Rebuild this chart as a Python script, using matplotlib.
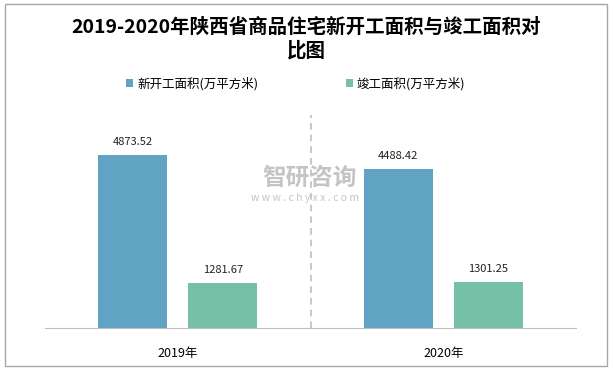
import numpy as np
import matplotlib
matplotlib.use("Agg")
import matplotlib.pyplot as plt
from matplotlib.patches import Rectangle

plt.rcParams["font.family"] = ["Noto Sans CJK SC", "DejaVu Sans"]

years = ["2019年", "2020年"]
new_start = [4873.52, 4488.42]
completed = [1281.67, 1301.25]
series_names = ["新开工面积(万平方米)", "竣工面积(万平方米)"]
BLUE, GREEN = "#60A3C2", "#76C0A8"

W, H = 613, 369
fig = plt.figure(figsize=(W / 100, H / 100), dpi=100)
# outer border
fig.patches.append(Rectangle((5 / W, 3 / H), 602 / W, 362 / H, transform=fig.transFigure,
                             fill=False, ec="#a6a6a6", lw=1.0))

ax = fig.add_axes([45 / W, 1 - 328 / H, 531 / W, 213 / H])
x = np.arange(len(years))
bw, off = 0.26, 0.17
b1 = ax.bar(x - off, new_start, bw, color=BLUE, label=series_names[0])
b2 = ax.bar(x + off, completed, bw, color=GREEN, label=series_names[1])
for bars in (b1, b2):
    for r in bars:
        ax.text(r.get_x() + r.get_width() / 2, r.get_height() + 220, f"{r.get_height():.2f}",
                ha="center", va="bottom", fontsize=8, color="#222222")

ax.set_xlim(-0.5, 1.5)
ax.set_ylim(0, 6000)
ax.axvline(0.5, color="#bfbfbf", lw=1.2, ls=(0, (4, 3)))
for s in ("top", "right", "left"):
    ax.spines[s].set_visible(False)
ax.spines["bottom"].set_color("#bfbfbf")
ax.set_yticks([])
ax.set_xticks(x)
ax.set_xticklabels(years, fontsize=9)
ax.tick_params(axis="x", length=0, pad=14)

fig.text(0.5, 1 - 27 / H, "2019-2020年陕西省商品住宅新开工面积与竣工面积对", ha="center", va="center",
         fontsize=14, fontweight="bold")
fig.text(0.5, 1 - 51 / H, "比图", ha="center", va="center", fontsize=14, fontweight="bold")

fig.legend(handles=[b1, b2], loc="center", bbox_to_anchor=(0.5 - 11 / W, 1 - 84 / H), ncol=2,
           frameon=False, fontsize=9, handlelength=0.6, handleheight=0.6, handletextpad=0.3,
           columnspacing=7)

# watermark
fig.text(310 / W, 1 - 178 / H, "智研咨询", ha="center", va="center", fontsize=17,
         color="#c4c4c4", fontweight="bold")
fig.text(305 / W, 1 - 198 / H, "w w w . c h y x x . c o m", ha="center", va="center",
         fontsize=7.5, color="#c4c4c4")

fig.savefig("out.png", dpi=100)
